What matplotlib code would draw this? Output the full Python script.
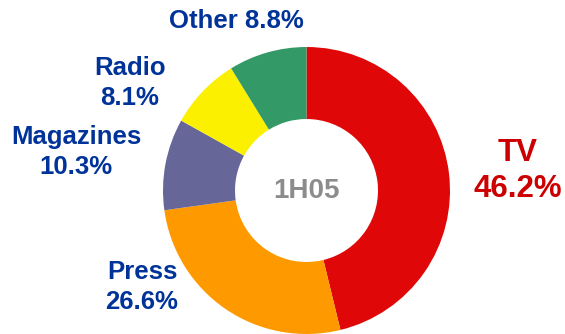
import matplotlib.pyplot as plt

# Media share for the period
segments = ["TV", "Press", "Magazines", "Radio", "Other"]
shares = [46.2, 26.6, 10.3, 8.1, 8.8]
period = "1H05"

colors = ["#DF0707", "#FF9900", "#666699", "#FAF000", "#339966"]
label_colors = ["#CC0000", "#003399", "#003399", "#003399", "#003399"]

plt.rcParams["font.family"] = ["Liberation Sans", "DejaVu Sans"]

W, H = 565, 334
fig = plt.figure(figsize=(W / 100, H / 100), dpi=100)
ax = fig.add_axes([0, 0, 1, 1])

# donut in pixel units, centre at (306.5, 190.5) from the top
cx, cy = 306.5, H - 190.5
ax.pie(shares, colors=colors, startangle=90, counterclock=False,
       center=(cx, cy), radius=143.5, frame=True,
       wedgeprops=dict(width=72, linewidth=0))
ax.set_xlim(0, W)
ax.set_ylim(0, H)
ax.set_aspect("equal")
ax.axis("off")

ax.text(cx, cy, period, ha="center", va="center", fontsize=20,
        fontweight="bold", color="#8C8C8C")

# label anchor (x, y from top), font size, line spacing, two lines or one
label_pos = {
    "TV": (518, 171, 22.5, 1.25, True),
    "Press": (142, 287, 18.5, 1.32, True),
    "Magazines": (76, 152, 18.5, 1.32, True),
    "Radio": (130, 83, 18.5, 1.32, True),
    "Other": (236, 21, 18.5, 1.0, False),
}
for name, val, col in zip(segments, shares, label_colors):
    x, y, fs, ls, two = label_pos[name]
    txt = f"{name}\n{val:.1f}%" if two else f"{name} {val:.1f}%"
    ax.text(x, H - y, txt, ha="center", va="center", fontsize=fs,
            fontweight="bold", color=col, linespacing=ls,
            multialignment="center")

fig.savefig("out.png", dpi=100)
